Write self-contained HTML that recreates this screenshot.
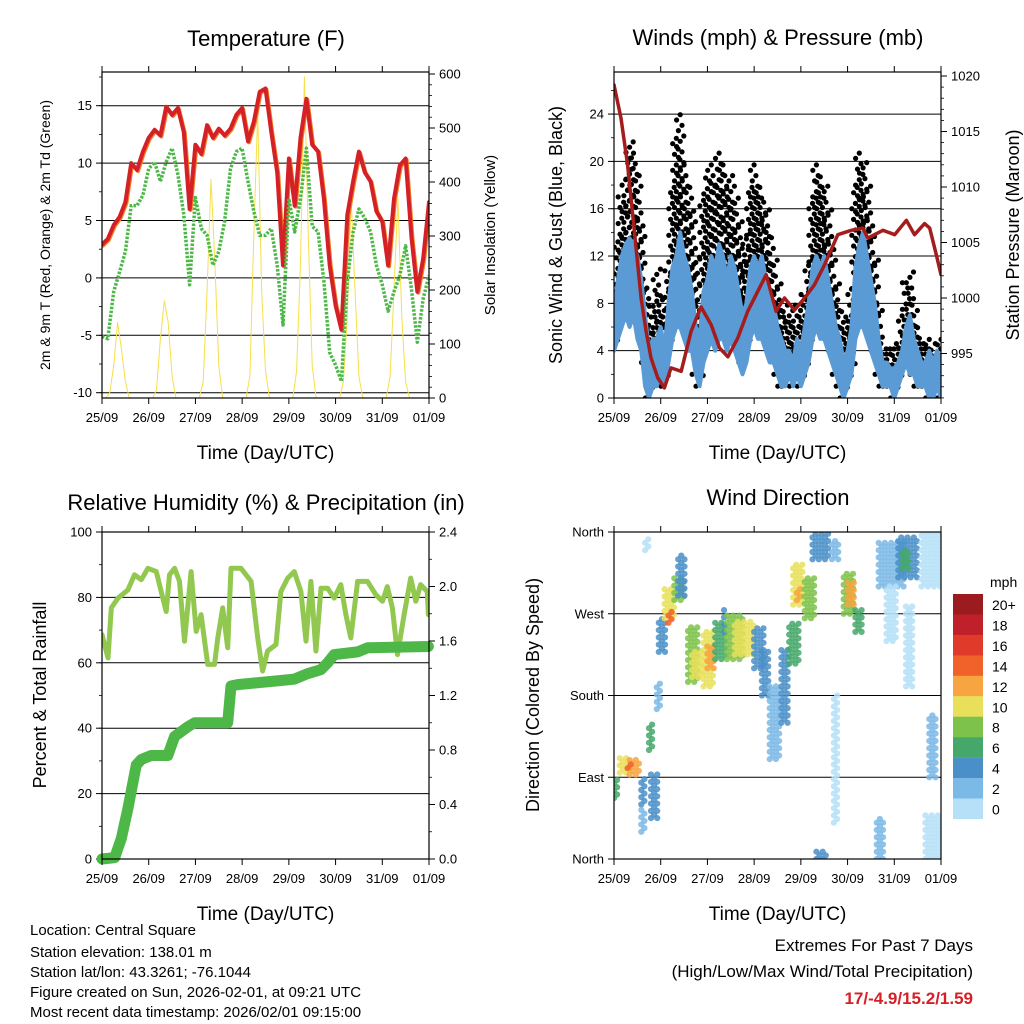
<!DOCTYPE html>
<html><head><meta charset="utf-8">
<style>
html,body{margin:0;padding:0;background:#fff;}
svg{display:block;font-family:"Liberation Sans",sans-serif;}
</style></head>
<body>
<svg id="chart" width="1024" height="1024" viewBox="0 0 1024 1024" xmlns="http://www.w3.org/2000/svg">
<rect width="1024" height="1024" fill="#fff"/>
<defs>
<clipPath id="c1"><rect x="102" y="72" width="327" height="326"/></clipPath>
<clipPath id="c2"><rect x="614" y="72" width="327" height="326"/></clipPath>
<clipPath id="c3"><rect x="102" y="532" width="327" height="327"/></clipPath>
<clipPath id="c4"><rect x="614" y="532" width="327" height="327"/></clipPath>
</defs>
<g id="g1"></g>
<g id="g2"></g>
<g id="g3"></g>
<g id="g4"></g>
<g id="legend"></g>
<g font-size="15" fill="#000">
<text x="30" y="935">Location: Central Square</text>
<text x="30" y="957">Station elevation: 138.01 m</text>
<text x="30" y="977">Station lat/lon: 43.3261; -76.1044</text>
<text x="30" y="997">Figure created on Sun, 2026-02-01, at 09:21 UTC</text>
<text x="30" y="1017">Most recent data timestamp: 2026/02/01 09:15:00</text>
</g>
<g text-anchor="end">
<text x="973" y="951" font-size="17">Extremes For Past 7 Days</text>
<text x="973" y="977" font-size="17">(High/Low/Max Wind/Total Precipitation)</text>
<text x="973" y="1004" font-size="17" font-weight="bold" fill="#d42027">17/-4.9/15.2/1.59</text>
</g>
</svg>
<script>
// ---------- DATA ----------
const dayLabels = ["25/09","26/09","27/09","28/09","29/09","30/09","31/09","01/09"];
// Temperature (3-hourly, F)
const tempHours = [0,3,6,9,12,15,18,21,24,27,30,33,36,39,42,45,48,51,54,57,60,63,66,69,72,75,78,81,84,87,90,93,96,99,102,105,108,111,114,117,120,123,126,129,132,135,138,141,144,147,150,153,156,159,162,165,168];
const tempValues = [2.9,3.4,4.6,5.3,6.6,10.0,9.4,11.0,12.2,12.9,12.4,14.9,14.2,14.8,12.7,6.0,11.6,10.8,13.3,12.2,13.0,12.4,13.0,14.2,14.8,11.9,13.6,16.2,16.5,12.7,9.2,1.1,10.4,6.3,12.2,15.6,11.6,11.0,6.9,1.1,-2.4,-4.5,5.5,8.4,11.0,9.2,8.4,5.8,4.9,1.1,6.9,9.8,10.4,3.5,-1.2,1.7,6.6];
const dewValues = [-5.1,-5.3,-1.2,0.5,2.3,6.3,6.3,7.2,9.5,10.1,8.4,10.1,11.3,9.0,5.5,-0.6,7.0,4.3,3.7,1.1,2.3,4.9,9.5,11.0,11.3,8.4,5.8,3.7,3.7,4.3,1.1,-4.1,6.9,4.0,6.9,11.3,4.5,4.0,-0.3,-6.5,-7.6,-9.0,-0.3,4.0,6.0,5.2,4.0,1.1,-0.6,-2.9,-1.2,0.2,2.8,-1.0,-5.6,-1.8,0.2];
// Solar insolation (2-hourly, W/m2)
const solarValues = [
0,0,10,60,140,90,30,0,0,0,0,0,
0,0,15,110,180,140,40,0,0,0,0,0,
0,0,30,200,405,250,60,0,0,0,0,0,
0,0,40,300,530,200,50,0,0,0,0,0,
0,0,50,250,595,300,60,0,0,0,0,0,
0,0,30,150,370,200,40,0,0,0,0,0,
0,0,40,200,370,150,30,0,0,0,0,0,0];
// Winds (2-hourly, mph)
const windLow  = [4,5,6,7,6,7,5,4,1,0,1,1,2,1,3,5,6,6,5,4,4,2,1,3,4,5,4,5,5,4,5,4,3,2,3,5,6,5,5,4,3,3,2,1,1,2,1,2,1,2,3,5,6,5,5,4,3,2,1,0,1,2,5,6,6,5,4,3,2,1,1,1,0,1,2,3,2,2,1,1,1,0,0,1,0];
const windHigh = [7,10,12,13,13.5,13,12,10,7,4,5,5,6,4,8,11,12,14,12,11,9,6,5,9,10,12,11,13,12,10,12,11,9,7,8,11,12,11,12,10,9,8,6,5,4,4,3,5,4,6,8,11,12,11,12,10,8,6,5,3,4,6,11,13,14,12,10,8,5,3,3,2.5,2.5,3,4,6,7,5,4,3,3,4,3,4,3];
const gustHigh = [9,14,17,19,22,21,19,15,10,6,8,11,9,7,11,18,22,24,20,18,16,12,8,17,19,20,18,21,20,18,19,17,15,12,14,18,20,18,17,16,14,12,10,8,7,8,6,8,7,9,12,17,20,19,18,16,13,10,8,6,7,10,18,21,20,18,15,12,8,5,4.5,4.5,4,5,7,10,11,8,6,5,5,5,4,5,5];
// Pressure (mb)
const presHours = [0,3.6,7,10.5,13.9,16.5,19,22.5,25.9,29.3,34.5,39.6,44.7,49.9,54.2,58.5,63.6,68.7,73.9,78.2,83.3,87.6,92.7,97.9,103,108.2,115,121.9,127.9,130.4,138.2,144.2,150.2,154.4,159.6,162.2,165.6,168];
const presValues = [1019.2,1016.2,1012,1006,1000,997,994.6,992.8,991.9,993.7,993.4,997,999.2,997.6,995.5,994.7,996.4,998.8,1000.6,1002.1,998.8,1000,998.9,1000,1001.2,1003,1005.7,1006.1,1006.3,1005.4,1006.1,1005.7,1007,1005.7,1006.7,1006.3,1003.9,1002.1];
// Relative humidity (%)
const rhHours = [0,3.1,4.8,8.2,13.3,16.7,20.2,23.6,27.9,30.4,33,34.7,37.3,39.8,42.4,45.8,48.4,50.9,54.3,57.8,59.5,62,64.6,66.3,71.4,76.6,80,82.5,85.1,89.4,91.9,95.4,98.8,102.2,104.8,107.3,109.9,112.5,115.9,119.3,122.7,125.3,127.8,131.3,136.4,140.7,144.1,146.6,149.2,151.8,155.2,158.6,161.2,163.7,167.1,167.7];
const rhValues = [68.6,61.5,76.8,79.8,82.3,86.9,85.4,88.9,87.9,81.8,75.7,86.9,88.9,84.9,66.6,87.9,69.6,74.7,59.5,59.5,67.6,76.8,64.6,88.9,88.9,84.9,67.6,57.5,63.6,65.6,81.8,85.9,87.9,81.8,66.6,84.9,63.6,82.8,82.8,79.8,83.9,74.7,67.6,84.9,84.9,80.8,78.8,83.3,76.8,62.5,74.7,85.9,78.8,83.9,81.8,74.7];
// Precipitation accumulation (in)
const prHours = [0,6.5,9.9,13.3,17.6,20.2,25.3,33.8,37.3,44.1,47.5,64.6,66.3,69.7,91.9,98.8,105.6,112.5,115.9,119.3,131.3,136.4,167.7];
const prValues = [0,0.01,0.15,0.37,0.69,0.73,0.76,0.76,0.9,0.97,1.0,1.0,1.27,1.28,1.31,1.32,1.36,1.39,1.44,1.5,1.52,1.55,1.56];
// Wind direction clusters
const dirHourStart = [0,3,8,7,14,14,16,18,19,22,23,26,28,31,33,38,40,46,48,52,56.5,58,62,72,76,80,86,90,92,94,98,102,104,112,113,118,120,124,135,136,140,146,148,150,158,160,162];
const dirHourEnd   = [3,8,14,10,17,17,18,20,23,25,27,31,31,36,37,44,46,52,52,58,57.5,66,72,78,80,86,90,96,98,97,104,110,110,116,116,124,124,128,139,150,146,156,152,154,168,168,166];
const dirLow  = [67,95,93,100,60,30,340,120,45,165,228,265,260,285,290,195,200,190,210,220,250,220,225,210,180,110,150,215,280,285,265,330,0,330,40,270,280,250,0,300,240,310,320,190,300,0,90];
const dirHigh = [90,112,110,106,90,55,355,150,95,195,265,300,275,310,335,255,230,250,235,260,280,268,262,255,230,190,230,260,325,300,310,360,8,350,180,315,305,275,45,350,300,355,340,280,360,50,160];
const dirSpeed= [6,11,13,15,4,2,1,6,4,3,5,10,14,8,4,8,10,10,13,7,4,8,10,5,4,3,4,7,10,13,8,4,4,2,1,8,12,7,3,2,1,4,6,1,1,1,2];
// Colorbar
const cbLabels = ["20+","18","16","14","12","10","8","6","4","2","0"];
const cbColors = ["#9b1b1e","#c0202a","#e03a2a","#f1612a","#f7a540","#e8e05a","#7dc24a","#45a86a","#4a8fc8","#7bb9e6","#b6e0f7"];

// ---------- HELPERS ----------
const NS="http://www.w3.org/2000/svg";
function mk(tag,attrs,parent){const e=document.createElementNS(NS,tag);for(const k in attrs)e.setAttribute(k,attrs[k]);parent.appendChild(e);return e;}
function txt(parent,x,y,s,size,anchor,extra){const t=mk('text',Object.assign({x:x,y:y,'font-size':size,'text-anchor':anchor||'middle'},extra||{}),parent);t.textContent=s;return t;}
function P(x0,x1,y0,y1){return {x0,x1,y0,y1,tx:h=>x0+h/168*(x1-x0)};}
const panels=[P(102,429,72,398),P(614,941,72,398),P(102,429,532,859),P(614,941,532,859)];

function frame(g,p){
  for(let d=0;d<=7;d++){
    const x=p.tx(d*24);
    mk('line',{x1:x,x2:x,y1:p.y0,y2:p.y0-6,stroke:'#000','stroke-width':1},g);
    mk('line',{x1:x,x2:x,y1:p.y1,y2:p.y1+6,stroke:'#000','stroke-width':1},g);
    const l=txt(g,x,p.y1+24,dayLabels[d],13);
    
    
  }
  const r=mk('rect',{x:p.x0,y:p.y0,width:p.x1-p.x0,height:p.y1-p.y0,fill:'none',stroke:'#000','stroke-width':1.2},g);
  
  
  const xt=txt(g,(p.x0+p.x1)/2,p.y1+61,'Time (Day/UTC)',19);
  
  
}
function yaxis(g,p,side,vals,fy,labels,minor,grid,size){
  const x=side==='l'?p.x0:p.x1, dir=side==='l'?-1:1;
  vals.forEach((v,i)=>{
    const y=fy(v);
    if(grid){const gl=mk('line',{x1:p.x0,x2:p.x1,y1:y,y2:y,stroke:'#000','stroke-width':1},g);
      
      }
    mk('line',{x1:x,x2:x+dir*6,y1:y,y2:y,stroke:'#000','stroke-width':1},g);
    const l=txt(g,x+dir*10,y+4.5,labels[i],size||13,side==='l'?'end':'start');
    
    
  });
  minor.forEach(v=>{const y=fy(v);mk('line',{x1:x,x2:x+dir*3,y1:y,y2:y,stroke:'#000','stroke-width':0.8},g);});
}
function vtitle(g,x,y,s,size,name){const t=txt(g,0,0,s,size,'middle',{transform:`translate(${x},${y}) rotate(-90)`});}
function line(g,xs,ys,attrs,name){const pts=xs.map((x,i)=>x.toFixed(1)+','+ys[i].toFixed(1)).join(' ');const e=mk('polyline',Object.assign({points:pts,fill:'none','stroke-linejoin':'round','stroke-linecap':'round'},attrs),g);return e;}
function range(a,b,s){const r=[];for(let v=a;v<=b+1e-9;v+=s)r.push(+v.toFixed(3));return r;}

// ---------- PANEL 1 ----------
(function(){
  const g=document.getElementById('g1'),p=panels[0];
  const fy=v=>105.7-(v-15)*11.48, fr=v=>398-v*0.54;
  const title=txt(g,266,46,'Temperature (F)',22);
  yaxis(g,p,'l',[-10,-5,0,5,10,15],fy,['-10','-5','0','5','10','15'],range(-10,17.5,2.5),true);
  yaxis(g,p,'r',[0,100,200,300,400,500,600],fr,['0','100','200','300','400','500','600'],range(0,600,20),false);
  const c=mk('g',{'clip-path':'url(#c1)'},g);
  const sx=solarValues.map((v,i)=>p.tx(i*2));
  line(c,sx,solarValues.map(fr),{stroke:'#f7e04a','stroke-width':1},'solar-line');
  const tx=tempHours.map(p.tx);
  line(c,tx.map(x=>x+1),tempValues.map(v=>fy(v)+1),{stroke:'#f47c20','stroke-width':4},'temp-9m-line');
  line(c,tx,tempValues.map(fy),{stroke:'#d42027','stroke-width':4},'temp-2m-line');
  line(c,tx,dewValues.map(fy),{stroke:'#4db848','stroke-width':3.5,'stroke-dasharray':'2.5 1.5','stroke-linecap':'butt'},'dewpoint-line');
  frame(g,p);
  vtitle(g,50,235,'2m & 9m T (Red, Orange) & 2m Td (Green)',14,'y-axis-title-left');
  vtitle(g,495,235,'Solar Insolation (Yellow)',15,'y-axis-title-right');
})();

// ---------- PANEL 2 ----------
(function(){
  const g=document.getElementById('g2'),p=panels[1];
  const fy=v=>398-v*11.83, fp=v=>298-(v-1000)*11.1;
  const title=txt(g,778,45,'Winds (mph) & Pressure (mb)',22);
  yaxis(g,p,'l',[0,4,8,12,16,20,24],fy,['0','4','8','12','16','20','24'],range(0,26,2),true);
  yaxis(g,p,'r',[995,1000,1005,1010,1015,1020],fp,['995','1000','1005','1010','1015','1020'],range(991,1020,1),false);
  const c=mk('g',{'clip-path':'url(#c2)'},g);
  const offs=[-3.6,0,3.6,-1.8,1.8];
  windHigh.forEach((hi,i)=>{
    const x=p.tx(i*2);
    let k=0;
    for(let v=Math.max(windLow[i],hi-4);v<=gustHigh[i];v+=0.45){
      const d=mk('circle',{cx:(x+offs[k%5]).toFixed(1),cy:fy(v).toFixed(1),r:2.6,fill:'#000'},c);
      
      
      k++;
    }
  });
  const xs=windHigh.map((v,i)=>p.tx(i*2));
  let pts=xs.map((x,i)=>x.toFixed(1)+','+fy(windHigh[i]).toFixed(1));
  for(let i=xs.length-1;i>=0;i--)pts.push(xs[i].toFixed(1)+','+fy(windLow[i]).toFixed(1));
  const band=mk('polygon',{points:pts.join(' '),fill:'#5b9bd5',stroke:'#5b9bd5','stroke-width':4,'stroke-linejoin':'round'},c);
  
  
  line(c,presHours.map(p.tx),presValues.map(fp),{stroke:'#a51c1c','stroke-width':3.5},'pressure-line');
  frame(g,p);
  vtitle(g,562,235,'Sonic Wind & Gust (Blue, Black)',18,'y-axis-title-left');
  vtitle(g,1019,235,'Station Pressure (Maroon)',18,'y-axis-title-right');
})();

// ---------- PANEL 3 ----------
(function(){
  const g=document.getElementById('g3'),p=panels[2];
  const fy=v=>859-v*3.27, fr=v=>859-v*136.25;
  const title=txt(g,266,510,'Relative Humidity (%) & Precipitation (in)',22);
  yaxis(g,p,'l',[0,20,40,60,80,100],fy,['0','20','40','60','80','100'],range(0,100,10),true);
  yaxis(g,p,'r',[0,0.4,0.8,1.2,1.6,2.0,2.4],fr,['0.0','0.4','0.8','1.2','1.6','2.0','2.4'],range(0,2.4,0.2),false);
  const c=mk('g',{},g);
  line(mk('g',{'clip-path':'url(#c3)'},c),rhHours.map(p.tx),rhValues.map(fy),{stroke:'#92c850','stroke-width':5},'humidity-line');
  line(c,prHours.map(p.tx),prValues.map(fr),{stroke:'#4db848','stroke-width':11},'precip-line');
  frame(g,p);
  vtitle(g,46,695,'Percent & Total Rainfall',18,'y-axis-title-left');
})();

// ---------- PANEL 4 ----------
(function(){
  const g=document.getElementById('g4'),p=panels[3];
  const fy=v=>859-v/360*327;
  const title=txt(g,778,505,'Wind Direction',22);
  yaxis(g,p,'l',[0,90,180,270,360],fy,['North','East','South','West','North'],[],false,13);
  [90,180,270].forEach(v=>{const gl=mk('line',{x1:p.x0,x2:p.x1,y1:fy(v),y2:fy(v),stroke:'#000','stroke-width':1},g);});
  const c=mk('g',{'clip-path':'url(#c4)','fill-opacity':0.85},g);
  dirSpeed.forEach((s,i)=>{
    const col=cbColors[10-Math.min(10,Math.floor(s/2))];
    let k=0;
    for(let h=dirHourStart[i];h<=dirHourEnd[i]+1e-6;h+=1.6){
      for(let d=dirLow[i]+(k%2)*4;d<=dirHigh[i];d+=8){
        const pt=mk('circle',{cx:p.tx(h).toFixed(1),cy:fy(d).toFixed(1),r:3.1,fill:col},c);
        
        
      }
      k++;
    }
  });
  frame(g,p);
  vtitle(g,539,695,'Direction (Colored By Speed)',18,'y-axis-title-left');
})();

// ---------- COLORBAR ----------
(function(){
  const g=document.getElementById('legend');
  const t=txt(g,990,587,'mph',14,'start');
  
  
  cbLabels.forEach((lab,i)=>{
    const y=594+i*20.45;
    const r=mk('rect',{x:953,y:y.toFixed(1),width:30,height:20.6,fill:cbColors[i]},g);
    
    
    const l=txt(g,992,y+16,lab,14,'start');
    
    
  });
})();
</script>
</body></html>
